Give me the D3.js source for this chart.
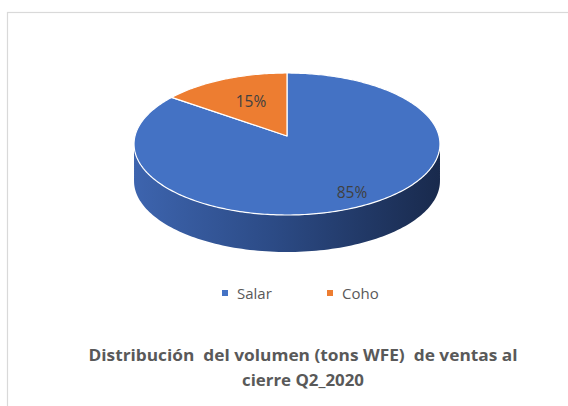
<!DOCTYPE html>
<html>
<head>
<meta charset="utf-8">
<script src="https://cdn.jsdelivr.net/npm/d3@7"></script>
<style>
  html, body { margin: 0; padding: 0; background: #fff; }
  svg { display: block; }
</style>
</head>
<body>
<svg id="chart" width="568" height="406"></svg>
<script>
// chart data
var categories = ['Salar', 'Coho'];
var values = [85, 15];
var labels = ['85%', '15%'];
var titleLines = ['Distribución  del volumen (tons WFE)  de ventas al', 'cierre Q2_2020'];

var colors = ['#4472c4', '#ed7d31'];

var svg = d3.select('#chart'),
    width = 568,
    height = 406,
    font = '"Open Sans", sans-serif';

// chart area border
svg.append('rect')
    .attr('x', 7.5).attr('y', 12.5)
    .attr('width', 600).attr('height', 420)
    .attr('fill', '#fff')
    .attr('stroke', '#d9d9d9')
    .attr('stroke-width', 1.2);

// 3D pie geometry (simple perspective tilt)
var cx = 287, cy = 136,
    rx = 152,
    a = 70.1,   // vertical half-size
    b = 0.1127, // perspective factor
    depth = 37;

function proj(theta, r) {
    // theta: clockwise from 12 o'clock, r: 0..1
    var s = -Math.cos(theta) * r,
        k = 1 / (1 - b * s);
    return [cx + rx * Math.sin(theta) * r * k, cy + a * s * k];
}

var pie = d3.pie().sort(null).value(function(d) { return d; });
var arcs = pie(values);

var defs = svg.append('defs');
var grad = defs.append('linearGradient')
    .attr('id', 'sideGrad')
    .attr('gradientUnits', 'userSpaceOnUse')
    .attr('x1', cx - rx).attr('x2', cx + rx)
    .attr('y1', 0).attr('y2', 0);
grad.append('stop').attr('offset', '0%').attr('stop-color', '#3d64ae');
grad.append('stop').attr('offset', '45%').attr('stop-color', '#2c4b86');
grad.append('stop').attr('offset', '100%').attr('stop-color', '#192a4d');

// side wall (front half, all Salar)
var t0 = Math.acos(-b), t1 = 2 * Math.PI - t0;
var sidePts = [], n = 120, i, th, p;
for (i = 0; i <= n; i++) {
    th = t0 + (t1 - t0) * i / n;
    sidePts.push(proj(th, 1));
}
for (i = n; i >= 0; i--) {
    th = t0 + (t1 - t0) * i / n;
    p = proj(th, 1);
    sidePts.push([p[0], p[1] + depth]);
}
svg.append('path')
    .attr('d', d3.line()(sidePts) + 'Z')
    .attr('fill', 'url(#sideGrad)');

// top faces
function slicePath(d) {
    var pts = [proj(0, 0)], steps = Math.max(4, Math.round((d.endAngle - d.startAngle) * 60));
    for (var j = 0; j <= steps; j++) {
        pts.push(proj(d.startAngle + (d.endAngle - d.startAngle) * j / steps, 1));
    }
    return d3.line()(pts) + 'Z';
}

svg.selectAll('path.slice')
    .data(arcs)
    .enter()
    .append('path')
    .attr('class', 'slice')
    .attr('d', slicePath)
    .attr('fill', function(d, i) { return colors[i]; })
    .attr('stroke', '#fff')
    .attr('stroke-width', 1.2)
    .attr('stroke-linejoin', 'round');

// data labels
var labelR = [0.86, 0.55];
svg.selectAll('text.lbl')
    .data(arcs)
    .enter()
    .append('text')
    .attr('class', 'lbl')
    .attr('x', function(d, i) { return proj((d.startAngle + d.endAngle) / 2, labelR[i])[0]; })
    .attr('y', function(d, i) { return proj((d.startAngle + d.endAngle) / 2, labelR[i])[1]; })
    .attr('dy', '0.2em')
    .attr('text-anchor', 'middle')
    .attr('font-family', font)
    .attr('font-size', 15.5)
    .attr('fill', '#404040')
    .text(function(d, i) { return labels[i]; });

// legend
var legendX = [222, 327];
var legend = svg.selectAll('g.legend')
    .data(categories)
    .enter()
    .append('g')
    .attr('class', 'legend')
    .attr('transform', function(d, i) { return 'translate(' + legendX[i] + ',293)'; });

legend.append('rect')
    .attr('x', 0).attr('y', -3)
    .attr('width', 6).attr('height', 6)
    .attr('fill', function(d, i) { return colors[i]; });

legend.append('text')
    .attr('x', 15).attr('y', 5.5)
    .attr('font-family', font)
    .attr('font-size', 15)
    .attr('fill', '#595959')
    .text(function(d) { return d; });

// title
var titleW = [429, 122];
svg.selectAll('text.title')
    .data(titleLines)
    .enter()
    .append('text')
    .attr('class', 'title')
    .attr('x', 303)
    .attr('y', function(d, i) { return 361 + i * 25; })
    .attr('text-anchor', 'middle')
    .attr('font-family', font)
    .attr('font-weight', 'bold')
    .attr('font-size', 16)
    .attr('fill', '#595959')
    .attr('textLength', function(d, i) { return titleW[i]; })
    .attr('lengthAdjust', 'spacingAndGlyphs')
    .style('white-space', 'pre')
    .text(function(d) { return d; });
</script>
</body>
</html>
